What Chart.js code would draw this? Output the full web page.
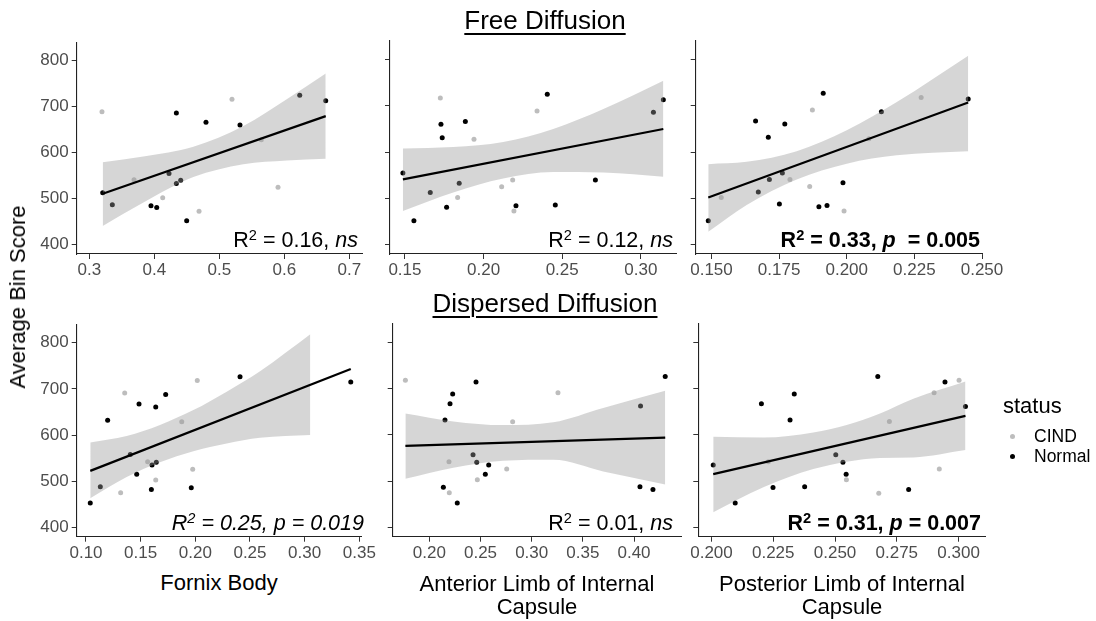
<!DOCTYPE html>
<html><head><meta charset="utf-8">
<script src="https://cdn.jsdelivr.net/npm/chart.js@4.4.0/dist/chart.umd.min.js"></script>
<style>
html,body{margin:0;padding:0;background:#fff;width:1096px;height:621px;overflow:hidden;font-family:"Liberation Sans",Arial,Helvetica,sans-serif;}
canvas{position:absolute;}
.t{position:absolute;white-space:nowrap;color:#000;line-height:1;}
.sup{font-size:0.68em;position:relative;top:-0.5em;}
.dot{position:absolute;width:5px;height:5px;border-radius:50%;}
</style></head><body>
<script>
// ---------- shared ----------
const yTicks = [400, 500, 600, 700, 800];

// ---------- Panel 1: Free Diffusion, Fornix Body ----------
const p1Ticks = [0.3, 0.4, 0.5, 0.6, 0.7];
const p1CindX = [0.3195, 0.3688, 0.4129, 0.4688, 0.5195, 0.5646, 0.5903];
const p1CindY = [689, 541, 502, 473, 716, 628, 525];
const p1NormX = [0.3206, 0.3354, 0.3949, 0.4037, 0.4226, 0.4339, 0.4339, 0.4406, 0.4498, 0.4795, 0.5318, 0.6237, 0.6637];
const p1NormY = [513, 487, 485, 481, 555, 686, 533, 540, 452, 666, 660, 725, 713];
const p1FitX = [0.3206, 0.6637];
const p1FitY = [511, 679.5];
const p1BandX = [0.3206, 0.3832, 0.4601, 0.537, 0.6037, 0.6637];
const p1BandHi = [579, 592, 613, 658, 716, 772];
const p1BandLo = [441, 492, 547, 575, 583, 587];

// ---------- Panel 2: Free Diffusion, Anterior Limb ----------
const p2Ticks = [0.15, 0.20, 0.25, 0.30];
const p2CindX = [0.1725, 0.1835, 0.1939, 0.2115, 0.2185, 0.2193, 0.234];
const p2CindY = [717, 502, 628, 525, 540, 473, 689];
const p2NormX = [0.1487, 0.1557, 0.1661, 0.1729, 0.1737, 0.1765, 0.1845, 0.1884, 0.2206, 0.2405, 0.2456, 0.2711, 0.308, 0.3143];
const p2NormY = [555, 452, 513, 660, 631, 481, 533, 666, 484, 725, 486, 540, 686, 713];
const p2FitX = [0.1487, 0.3143];
const p2FitY = [541, 650];
const p2BandX = [0.1487, 0.1807, 0.2125, 0.2443, 0.2762, 0.3143];
const p2BandHi = [608, 611, 622, 650, 693, 754];
const p2BandLo = [473, 513, 543, 557, 556, 547];

// ---------- Panel 3: Free Diffusion, Posterior Limb ----------
const p3Ticks = [0.150, 0.175, 0.200, 0.225, 0.250];
const p3CindX = [0.1536, 0.179, 0.1863, 0.1873, 0.199, 0.2082, 0.2275];
const p3CindY = [502, 541, 526, 691, 473, 629, 718];
const p3NormX = [0.1488, 0.1663, 0.1673, 0.171, 0.1714, 0.1751, 0.1762, 0.1771, 0.1897, 0.1913, 0.1927, 0.1986, 0.2128, 0.2449];
const p3NormY = [452, 667, 514, 632, 541, 488, 555, 661, 482, 727, 485, 534, 687, 715];
const p3FitX = [0.1488, 0.2449];
const p3FitY = [502, 707];
const p3BandX = [0.1488, 0.163, 0.1815, 0.200, 0.2185, 0.2449];
const p3BandHi = [574, 579, 602, 647, 708, 808];
const p3BandLo = [428, 486, 541, 575, 593, 602];

// ---------- Panel 4: Dispersed Diffusion, Fornix Body ----------
const p4Ticks = [0.10, 0.15, 0.20, 0.25, 0.30, 0.35];
const p4CindX = [0.1317, 0.1354, 0.1564, 0.1638, 0.1876, 0.1976, 0.2018];
const p4CindY = [475, 691, 542, 503, 629, 526, 718];
const p4NormX = [0.1039, 0.1131, 0.1198, 0.1405, 0.1464, 0.1485, 0.1598, 0.1604, 0.1638, 0.1643, 0.1729, 0.1963, 0.2409, 0.3422];
const p4NormY = [453, 488, 632, 558, 515, 667, 482, 535, 661, 541, 688, 486, 726, 715];
const p4FitX = [0.1039, 0.3422];
const p4FitY = [522.5, 743];
const p4BandX = [0.1039, 0.1372, 0.1677, 0.1982, 0.2287, 0.2592, 0.3052];
const p4BandHi = [584, 598, 622, 654, 694, 738, 818];
const p4BandLo = [463, 509, 541, 565, 582, 594, 600];

// ---------- Panel 5: Dispersed Diffusion, Anterior Limb ----------
const p5Ticks = [0.20, 0.25, 0.30, 0.35, 0.40];
const p5CindX = [0.1766, 0.2192, 0.2195, 0.2469, 0.2756, 0.2814, 0.3257];
const p5CindY = [718, 542, 475, 503, 526, 628, 691];
const p5NormX = [0.2137, 0.2153, 0.2202, 0.2228, 0.2273, 0.2427, 0.2456, 0.2463, 0.2547, 0.258, 0.4064, 0.4058, 0.4185, 0.4305];
const p5NormY = [487, 632, 667, 688, 453, 557, 714, 541, 515, 535, 662, 488, 482, 726];
const p5FitX = [0.1766, 0.4305];
const p5FitY = [576, 594];
const p5BandX = [0.1766, 0.2234, 0.2723, 0.3211, 0.3699, 0.4305];
const p5BandHi = [646, 629, 621, 627, 658, 695];
const p5BandLo = [505, 529, 544, 546, 521, 493];

// ---------- Panel 6: Dispersed Diffusion, Posterior Limb ----------
const p6Ticks = [0.200, 0.225, 0.250, 0.275, 0.300];
const p6CindX = [0.223, 0.2546, 0.2677, 0.272, 0.2901, 0.2922, 0.3002];
const p6CindY = [542, 503, 474, 629, 691, 526, 718];
const p6NormX = [0.2007, 0.2096, 0.2202, 0.2249, 0.2318, 0.2335, 0.2377, 0.2503, 0.2532, 0.2545, 0.2673, 0.2798, 0.2945, 0.3028];
const p6NormY = [535, 453, 667, 486, 632, 688, 488, 557, 541, 515, 726, 482, 714, 661];
const p6FitX = [0.2007, 0.3028];
const p6FitY = [515, 641];
const p6BandX = [0.2007, 0.221, 0.2412, 0.2547, 0.2682, 0.2817, 0.3028];
const p6BandHi = [596, 594, 605, 621, 646, 678, 715];
const p6BandLo = [433, 487, 526, 542, 550, 551, 567];

// ---------- drawing ----------
const FONT = '"Liberation Sans", Arial, Helvetica, sans-serif';
const CIND_COL = '#bdbdbd';
const pts = (xs, ys) => xs.map((x, i) => ({x: x, y: ys[i]}));

function makePanel(box, xMin, xMax, ticks, dec, showY, d) {
  const cv = document.createElement('canvas');
  const cl = Math.floor(box.l) - 62, ct = Math.floor(box.t) - 12;
  const cr = Math.ceil(box.r) + 30, cb = Math.ceil(box.b) + 32;
  cv.width = cr - cl; cv.height = cb - ct;
  cv.style.left = cl + 'px'; cv.style.top = ct + 'px';
  cv.style.width = (cr - cl) + 'px'; cv.style.height = (cb - ct) + 'px';
  document.body.appendChild(cv);
  const YW = 50, XH = 26;
  new Chart(cv, {
    type: 'scatter',
    data: { datasets: [
      { type: 'line', data: pts(d.fitX, d.fitY), borderColor: '#000', borderWidth: 2.2, pointRadius: 0, fill: false, order: 0 },
      { type: 'line', data: pts(d.bandX, d.bandHi), borderColor: 'rgba(0,0,0,0)', borderWidth: 0, pointRadius: 0,
        fill: '+1', backgroundColor: 'rgba(153,153,153,0.4)', cubicInterpolationMode: 'monotone', order: 1 },
      { type: 'line', data: pts(d.bandX, d.bandLo), borderColor: 'rgba(0,0,0,0)', borderWidth: 0, pointRadius: 0,
        fill: false, cubicInterpolationMode: 'monotone', order: 1 },
      { data: pts(d.cx, d.cy), backgroundColor: CIND_COL, pointRadius: 2.5, pointBorderWidth: 0, borderWidth: 0, order: 2 },
      { data: pts(d.nx, d.ny), backgroundColor: '#000', pointRadius: 2.5, pointBorderWidth: 0, borderWidth: 0, order: 2 }
    ]},
    options: {
      responsive: false, animation: false, events: [],
      layout: { autoPadding: false, padding: { left: box.l - cl - YW, top: box.t - ct, right: cr - box.r, bottom: cb - box.b - XH } },
      plugins: { legend: { display: false }, tooltip: { enabled: false }, title: { display: false } },
      scales: {
        x: { type: 'linear', min: xMin, max: xMax,
             afterFit: s => { s.height = XH; },
             afterBuildTicks: s => { s.ticks = ticks.map(v => ({ value: v })); },
             ticks: { callback: v => Number(v).toFixed(dec), color: '#4d4d4d', font: { size: 17, family: FONT }, padding: 1, maxRotation: 0, autoSkip: false },
             grid: { drawOnChartArea: false, drawTicks: true, tickLength: 5, color: '#333', tickWidth: 1 },
             border: { display: true, color: '#222', width: 1.1 } },
        y: { type: 'linear', min: 380, max: 840,
             afterFit: s => { s.width = YW; },
             afterBuildTicks: s => { s.ticks = yTicks.map(v => ({ value: v })); },
             ticks: { display: showY, color: '#4d4d4d', font: { size: 17, family: FONT }, padding: 3, autoSkip: false },
             grid: { drawOnChartArea: false, drawTicks: true, tickLength: 5, color: '#333', tickWidth: 1 },
             border: { display: true, color: '#222', width: 1.1 } }
      }
    }
  });
}

makePanel({l: 76.7, t: 41, r: 362, b: 254}, 0.2806, 0.7195, p1Ticks, 1, true,
  {fitX: p1FitX, fitY: p1FitY, bandX: p1BandX, bandHi: p1BandHi, bandLo: p1BandLo, cx: p1CindX, cy: p1CindY, nx: p1NormX, ny: p1NormY});
makePanel({l: 390, t: 41, r: 676.7, b: 254}, 0.1405, 0.3228, p2Ticks, 2, false,
  {fitX: p2FitX, fitY: p2FitY, bandX: p2BandX, bandHi: p2BandHi, bandLo: p2BandLo, cx: p2CindX, cy: p2CindY, nx: p2NormX, ny: p2NormY});
makePanel({l: 695.7, t: 41, r: 982.5, b: 254}, 0.14416, 0.25018, p3Ticks, 3, false,
  {fitX: p3FitX, fitY: p3FitY, bandX: p3BandX, bandHi: p3BandHi, bandLo: p3BandLo, cx: p3CindX, cy: p3CindY, nx: p3NormX, ny: p3NormY});
makePanel({l: 76.7, t: 323.7, r: 361.7, b: 536.7}, 0.0915, 0.3522, p4Ticks, 2, true,
  {fitX: p4FitX, fitY: p4FitY, bandX: p4BandX, bandHi: p4BandHi, bandLo: p4BandLo, cx: p4CindX, cy: p4CindY, nx: p4NormX, ny: p4NormY});
makePanel({l: 392.7, t: 323.7, r: 681.7, b: 536.7}, 0.1642, 0.4466, p5Ticks, 2, false,
  {fitX: p5FitX, fitY: p5FitY, bandX: p5BandX, bandHi: p5BandHi, bandLo: p5BandLo, cx: p5CindX, cy: p5CindY, nx: p5NormX, ny: p5NormY});
makePanel({l: 698.3, t: 323.7, r: 985, b: 536.7}, 0.19466, 0.3107, p6Ticks, 3, false,
  {fitX: p6FitX, fitY: p6FitY, bandX: p6BandX, bandHi: p6BandHi, bandLo: p6BandLo, cx: p6CindX, cy: p6CindY, nx: p6NormX, ny: p6NormY});
</script>

<!-- titles -->
<div class="t" style="left:545px;top:7px;transform:translateX(-50%);font-size:26px;text-decoration:underline;text-decoration-thickness:1.5px;text-underline-offset:4px;">Free Diffusion</div>
<div class="t" style="left:545px;top:290px;transform:translateX(-50%);font-size:26px;text-decoration:underline;text-decoration-thickness:1.5px;text-underline-offset:4px;">Dispersed Diffusion</div>

<!-- y axis title -->
<div class="t" style="left:18px;top:297px;transform:translate(-50%,-50%) rotate(-90deg);font-size:22px;">Average Bin Score</div>

<!-- x axis titles -->
<div class="t" style="left:219px;top:572px;transform:translateX(-50%);font-size:22px;">Fornix Body</div>
<div class="t" style="left:537px;top:572px;transform:translateX(-50%);font-size:22px;text-align:center;line-height:23px;">Anterior Limb of Internal<br>Capsule</div>
<div class="t" style="left:842px;top:572px;transform:translateX(-50%);font-size:22px;text-align:center;line-height:23px;">Posterior Limb of Internal<br>Capsule</div>

<!-- annotations -->
<div class="t" style="right:738px;top:230px;font-size:21.5px;">R<span class="sup">2</span> = 0.16, <i>ns</i></div>
<div class="t" style="right:423px;top:230px;font-size:21.5px;">R<span class="sup">2</span> = 0.12, <i>ns</i></div>
<div class="t" style="right:116px;top:230px;font-size:21.5px;font-weight:bold;">R<span class="sup">2</span> = 0.33, <i>p</i>&nbsp; = 0.005</div>
<div class="t" style="right:732px;top:513px;font-size:21.5px;font-style:italic;">R<span class="sup">2</span> = 0.25, p = 0.019</div>
<div class="t" style="right:423px;top:513px;font-size:21.5px;">R<span class="sup">2</span> = 0.01, <i>ns</i></div>
<div class="t" style="right:115px;top:513px;font-size:21.5px;font-weight:bold;">R<span class="sup">2</span> = 0.31, <i>p</i> = 0.007</div>

<!-- legend -->
<div class="t" style="left:1003px;top:395px;font-size:22px;">status</div>
<div class="dot" style="left:1010px;top:434px;background:#bdbdbd;"></div>
<div class="t" style="left:1034px;top:428px;font-size:17.5px;">CIND</div>
<div class="dot" style="left:1010px;top:453.5px;background:#000;"></div>
<div class="t" style="left:1034px;top:448px;font-size:17.5px;">Normal</div>
</body></html>
